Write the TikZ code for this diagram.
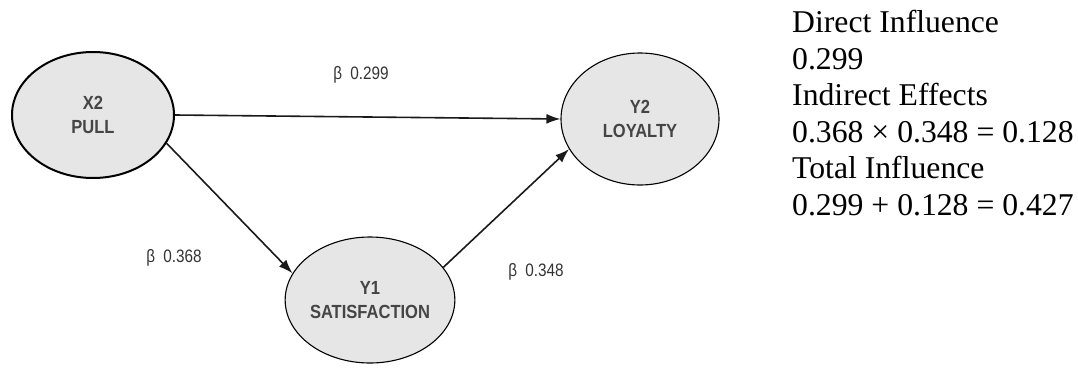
\documentclass[tikz,border=0pt]{standalone}
\usepackage{fontspec}
\setmainfont{Liberation Serif}
\newfontfamily\nodefont[FakeStretch=0.87]{Liberation Sans}
\newfontfamily\labelfont[FakeStretch=0.85]{Liberation Sans}
\usetikzlibrary{shapes.geometric,arrows.meta}
\definecolor{nodefill}{HTML}{E6E6E6}
\definecolor{nodetext}{HTML}{454545}
\definecolor{labeltext}{HTML}{333333}
\definecolor{edgecol}{HTML}{1A1A1A}
\tikzset{
  latent/.style={ellipse, draw=black, fill=nodefill, inner sep=0pt, align=center,
    text=nodetext, font=\nodefont\bfseries\fontsize{19}{24}\selectfont},
  path/.style={draw=edgecol, line width=1.6pt,
    -{Latex[length=14pt,width=10pt]}},
  coef/.style={text=labeltext, font=\labelfont\fontsize{18}{22}\selectfont, inner sep=0pt},
  summary/.style={align=left, anchor=north west, inner sep=0pt,
    font=\fontsize{31.7}{36.5}\selectfont}
}
\begin{document}
\begin{tikzpicture}[x=1pt, y=-1pt]
  \useasboundingbox (0,0) rectangle (1078,367);

  % latent variables
  \node[latent, line width=2pt, minimum width=162pt, minimum height=126pt]
    (X2) at (93,115) {X2\\PULL};
  \node[latent, line width=1.1pt, minimum width=158pt, minimum height=132pt]
    (Y2) at (640,119) {Y2\\LOYALTY};
  \node[latent, line width=1.1pt, minimum width=158pt, minimum height=126pt]
    (Y1) at (370,300) {Y1\\SATISFACTION};

  % structural paths
  \draw[path] (X2.east) -- (Y2.west);
  \draw[path] (X2.-21) -- (Y1.161);
  \draw[path] (Y1.24.6) -- (Y2.-157);

  % path coefficients
  \node[coef] (b1) at (361,75) {β\hspace{0.45em}0.299};
  \node[coef] (b2) at (174,258) {β\hspace{0.45em}0.368};
  \node[coef] (b3) at (536,272) {β\hspace{0.45em}0.348};

  % effect decomposition
  \node[summary] (sum) at (792,10) {Direct Influence\\
    0.299\\
    Indirect Effects\\
    0.368 × 0.348 = 0.128\\
    Total Influence\\
    0.299 + 0.128 = 0.427};
\end{tikzpicture}
\end{document}
